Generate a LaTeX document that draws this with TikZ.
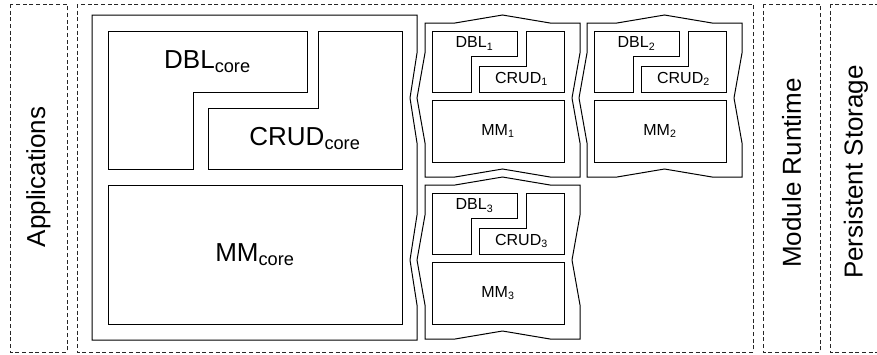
\documentclass[tikz,border=0pt]{standalone}
\usepackage{fontspec}
\setmainfont{Liberation Sans}
\begin{document}
\begin{tikzpicture}[x=0.75pt,y=-0.75pt,line width=0.75pt,
  layer/.style={draw=black!85,dash pattern=on 3pt off 2pt,line width=0.6pt},
  big/.style={font=\fontsize{19.5}{22}\selectfont},
  small/.style={font=\fontsize{12}{14}\selectfont}]
\useasboundingbox(0,0)rectangle(877,354);
\clip(0,0)rectangle(877,354);
\draw[layer](10,4)rectangle(67,352);
\draw[layer](77,4)rectangle(753,352);
\draw[layer](763,4)rectangle(820,352);
\draw[layer](830,4)rectangle(890,352);
\node[big,rotate=90](apps)at(38.5,177){Applications};
\node[big,rotate=90](runtime)at(791.5,173){Module Runtime};
\node[big,rotate=90](storage)at(856,172){Persistent Storage};
\draw(92,15)--(417,15)--(417,53)--(410,98)--(417,143)--(417,215)--(410,260)--(417,305)--(417,340)--(92,340)--cycle;
\draw(108,31)--(307,31)--(307,92)--(193,92)--(193,169)--(108,169)--cycle;
\draw(208,169)--(208,108)--(318,108)--(318,31)--(402,31)--(402,169)--cycle;
\draw(108,185)rectangle(402,324);
\node[big](dblcore)at(207.5,61.5){DBL\textsubscript{core}};
\node[big](crudcore)at(305,138.5){CRUD\textsubscript{core}};
\node[big](mmcore)at(255,254.5){MM\textsubscript{core}};
\foreach \x/\y/\i in{425/23/1,587/23/2,425/185/3}{
  \begin{scope}[shift={(\x,\y)}]
    \draw(0,0)--(30,0)--(77.5,-8)--(125,0)--(155,0)--(155,30)--(147,75)--(155,120)--(155,154)
      --(125,154)--(77.5,146)--(30,154)--(0,154)--(0,120)--(-8,75)--(0,30)--cycle;
    \draw(7,8)--(92,8)--(92,33)--(46,33)--(46,69)--(7,69)--cycle;
    \draw(54,69)--(54,43)--(101,43)--(101,8)--(139,8)--(139,69)--cycle;
    \draw(7,77)rectangle(139,139);
    \node[small](dbl\i)at(49.5,20.5){DBL\textsubscript{\i}};
    \node[small](crud\i)at(96.5,56){CRUD\textsubscript{\i}};
    \node[small](mm\i)at(73,108){MM\textsubscript{\i}};
  \end{scope}}
\end{tikzpicture}
\end{document}
